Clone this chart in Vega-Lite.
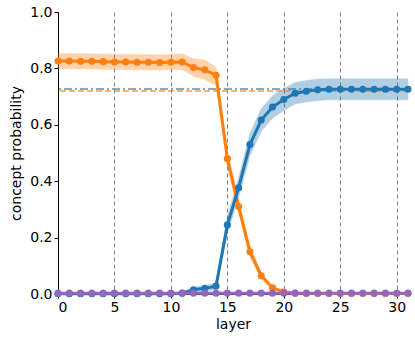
{
  "$schema": "https://vega.github.io/schema/vega-lite/v6.json",
  "width": 350,
  "height": 282,
  "autosize": {"type": "none"},
  "padding": {"left": 58, "top": 12, "right": 7, "bottom": 49},
  "background": "white",
  "config": {
    "view": {"stroke": null},
    "font": "DejaVu Sans",
    "axis": {
      "labelFont": "DejaVu Sans",
      "titleFont": "DejaVu Sans",
      "labelFontSize": 14,
      "titleFontSize": 14,
      "titleFontWeight": "normal",
      "labelColor": "#000",
      "titleColor": "#000",
      "domainColor": "#000",
      "tickColor": "#000",
      "domainWidth": 1,
      "tickSize": 4
    }
  },
  "datasets": {
    "series": [
      {"layer": 0, "concept": "orange", "mean": 0.826, "lo": 0.799, "hi": 0.853},
      {"layer": 1, "concept": "orange", "mean": 0.826, "lo": 0.799, "hi": 0.853},
      {"layer": 2, "concept": "orange", "mean": 0.825, "lo": 0.798, "hi": 0.852},
      {"layer": 3, "concept": "orange", "mean": 0.825, "lo": 0.798, "hi": 0.852},
      {"layer": 4, "concept": "orange", "mean": 0.824, "lo": 0.797, "hi": 0.851},
      {"layer": 5, "concept": "orange", "mean": 0.823, "lo": 0.796, "hi": 0.850},
      {"layer": 6, "concept": "orange", "mean": 0.823, "lo": 0.796, "hi": 0.850},
      {"layer": 7, "concept": "orange", "mean": 0.822, "lo": 0.795, "hi": 0.849},
      {"layer": 8, "concept": "orange", "mean": 0.822, "lo": 0.795, "hi": 0.849},
      {"layer": 9, "concept": "orange", "mean": 0.821, "lo": 0.794, "hi": 0.848},
      {"layer": 10, "concept": "orange", "mean": 0.822, "lo": 0.795, "hi": 0.849},
      {"layer": 11, "concept": "orange", "mean": 0.823, "lo": 0.796, "hi": 0.852},
      {"layer": 12, "concept": "orange", "mean": 0.803, "lo": 0.772, "hi": 0.834},
      {"layer": 13, "concept": "orange", "mean": 0.795, "lo": 0.760, "hi": 0.830},
      {"layer": 14, "concept": "orange", "mean": 0.776, "lo": 0.740, "hi": 0.805},
      {"layer": 15, "concept": "orange", "mean": 0.48, "lo": 0.45, "hi": 0.51},
      {"layer": 16, "concept": "orange", "mean": 0.31, "lo": 0.285, "hi": 0.335},
      {"layer": 17, "concept": "orange", "mean": 0.15, "lo": 0.13, "hi": 0.17},
      {"layer": 18, "concept": "orange", "mean": 0.065, "lo": 0.053, "hi": 0.077},
      {"layer": 19, "concept": "orange", "mean": 0.022, "lo": 0.016, "hi": 0.028},
      {"layer": 20, "concept": "orange", "mean": 0.007, "lo": 0.004, "hi": 0.010},
      {"layer": 21, "concept": "orange", "mean": 0.003, "lo": 0.002, "hi": 0.004},
      {"layer": 22, "concept": "orange", "mean": 0.002, "lo": 0.001, "hi": 0.003},
      {"layer": 23, "concept": "orange", "mean": 0.002, "lo": 0.001, "hi": 0.003},
      {"layer": 24, "concept": "orange", "mean": 0.002, "lo": 0.001, "hi": 0.003},
      {"layer": 25, "concept": "orange", "mean": 0.002, "lo": 0.001, "hi": 0.003},
      {"layer": 26, "concept": "orange", "mean": 0.002, "lo": 0.001, "hi": 0.003},
      {"layer": 27, "concept": "orange", "mean": 0.002, "lo": 0.001, "hi": 0.003},
      {"layer": 28, "concept": "orange", "mean": 0.002, "lo": 0.001, "hi": 0.003},
      {"layer": 29, "concept": "orange", "mean": 0.002, "lo": 0.001, "hi": 0.003},
      {"layer": 30, "concept": "orange", "mean": 0.002, "lo": 0.001, "hi": 0.003},
      {"layer": 31, "concept": "orange", "mean": 0.002, "lo": 0.001, "hi": 0.003},
      {"layer": 0, "concept": "blue", "mean": 0.001, "lo": 0.0, "hi": 0.002},
      {"layer": 1, "concept": "blue", "mean": 0.001, "lo": 0.0, "hi": 0.002},
      {"layer": 2, "concept": "blue", "mean": 0.001, "lo": 0.0, "hi": 0.002},
      {"layer": 3, "concept": "blue", "mean": 0.001, "lo": 0.0, "hi": 0.002},
      {"layer": 4, "concept": "blue", "mean": 0.001, "lo": 0.0, "hi": 0.002},
      {"layer": 5, "concept": "blue", "mean": 0.001, "lo": 0.0, "hi": 0.002},
      {"layer": 6, "concept": "blue", "mean": 0.001, "lo": 0.0, "hi": 0.002},
      {"layer": 7, "concept": "blue", "mean": 0.001, "lo": 0.0, "hi": 0.002},
      {"layer": 8, "concept": "blue", "mean": 0.001, "lo": 0.0, "hi": 0.002},
      {"layer": 9, "concept": "blue", "mean": 0.001, "lo": 0.0, "hi": 0.002},
      {"layer": 10, "concept": "blue", "mean": 0.001, "lo": 0.0, "hi": 0.002},
      {"layer": 11, "concept": "blue", "mean": 0.003, "lo": 0.001, "hi": 0.005},
      {"layer": 12, "concept": "blue", "mean": 0.015, "lo": 0.007, "hi": 0.023},
      {"layer": 13, "concept": "blue", "mean": 0.02, "lo": 0.01, "hi": 0.03},
      {"layer": 14, "concept": "blue", "mean": 0.028, "lo": 0.016, "hi": 0.040},
      {"layer": 15, "concept": "blue", "mean": 0.245, "lo": 0.215, "hi": 0.275},
      {"layer": 16, "concept": "blue", "mean": 0.377, "lo": 0.342, "hi": 0.412},
      {"layer": 17, "concept": "blue", "mean": 0.53, "lo": 0.49, "hi": 0.57},
      {"layer": 18, "concept": "blue", "mean": 0.617, "lo": 0.577, "hi": 0.657},
      {"layer": 19, "concept": "blue", "mean": 0.663, "lo": 0.623, "hi": 0.703},
      {"layer": 20, "concept": "blue", "mean": 0.69, "lo": 0.651, "hi": 0.729},
      {"layer": 21, "concept": "blue", "mean": 0.712, "lo": 0.674, "hi": 0.750},
      {"layer": 22, "concept": "blue", "mean": 0.719, "lo": 0.681, "hi": 0.757},
      {"layer": 23, "concept": "blue", "mean": 0.724, "lo": 0.686, "hi": 0.762},
      {"layer": 24, "concept": "blue", "mean": 0.726, "lo": 0.689, "hi": 0.763},
      {"layer": 25, "concept": "blue", "mean": 0.726, "lo": 0.689, "hi": 0.763},
      {"layer": 26, "concept": "blue", "mean": 0.726, "lo": 0.689, "hi": 0.763},
      {"layer": 27, "concept": "blue", "mean": 0.726, "lo": 0.689, "hi": 0.763},
      {"layer": 28, "concept": "blue", "mean": 0.726, "lo": 0.689, "hi": 0.763},
      {"layer": 29, "concept": "blue", "mean": 0.726, "lo": 0.689, "hi": 0.763},
      {"layer": 30, "concept": "blue", "mean": 0.726, "lo": 0.689, "hi": 0.763},
      {"layer": 31, "concept": "blue", "mean": 0.726, "lo": 0.689, "hi": 0.763},
      {"layer": 0, "concept": "purple", "mean": 0.003, "lo": 0.002, "hi": 0.004},
      {"layer": 1, "concept": "purple", "mean": 0.003, "lo": 0.002, "hi": 0.004},
      {"layer": 2, "concept": "purple", "mean": 0.003, "lo": 0.002, "hi": 0.004},
      {"layer": 3, "concept": "purple", "mean": 0.003, "lo": 0.002, "hi": 0.004},
      {"layer": 4, "concept": "purple", "mean": 0.003, "lo": 0.002, "hi": 0.004},
      {"layer": 5, "concept": "purple", "mean": 0.003, "lo": 0.002, "hi": 0.004},
      {"layer": 6, "concept": "purple", "mean": 0.003, "lo": 0.002, "hi": 0.004},
      {"layer": 7, "concept": "purple", "mean": 0.003, "lo": 0.002, "hi": 0.004},
      {"layer": 8, "concept": "purple", "mean": 0.003, "lo": 0.002, "hi": 0.004},
      {"layer": 9, "concept": "purple", "mean": 0.003, "lo": 0.002, "hi": 0.004},
      {"layer": 10, "concept": "purple", "mean": 0.003, "lo": 0.002, "hi": 0.004},
      {"layer": 11, "concept": "purple", "mean": 0.003, "lo": 0.002, "hi": 0.004},
      {"layer": 12, "concept": "purple", "mean": 0.003, "lo": 0.002, "hi": 0.004},
      {"layer": 13, "concept": "purple", "mean": 0.003, "lo": 0.002, "hi": 0.004},
      {"layer": 14, "concept": "purple", "mean": 0.003, "lo": 0.002, "hi": 0.004},
      {"layer": 15, "concept": "purple", "mean": 0.003, "lo": 0.002, "hi": 0.004},
      {"layer": 16, "concept": "purple", "mean": 0.003, "lo": 0.002, "hi": 0.004},
      {"layer": 17, "concept": "purple", "mean": 0.003, "lo": 0.002, "hi": 0.004},
      {"layer": 18, "concept": "purple", "mean": 0.003, "lo": 0.002, "hi": 0.004},
      {"layer": 19, "concept": "purple", "mean": 0.003, "lo": 0.002, "hi": 0.004},
      {"layer": 20, "concept": "purple", "mean": 0.003, "lo": 0.002, "hi": 0.004},
      {"layer": 21, "concept": "purple", "mean": 0.003, "lo": 0.002, "hi": 0.004},
      {"layer": 22, "concept": "purple", "mean": 0.003, "lo": 0.002, "hi": 0.004},
      {"layer": 23, "concept": "purple", "mean": 0.003, "lo": 0.002, "hi": 0.004},
      {"layer": 24, "concept": "purple", "mean": 0.003, "lo": 0.002, "hi": 0.004},
      {"layer": 25, "concept": "purple", "mean": 0.003, "lo": 0.002, "hi": 0.004},
      {"layer": 26, "concept": "purple", "mean": 0.003, "lo": 0.002, "hi": 0.004},
      {"layer": 27, "concept": "purple", "mean": 0.003, "lo": 0.002, "hi": 0.004},
      {"layer": 28, "concept": "purple", "mean": 0.003, "lo": 0.002, "hi": 0.004},
      {"layer": 29, "concept": "purple", "mean": 0.003, "lo": 0.002, "hi": 0.004},
      {"layer": 30, "concept": "purple", "mean": 0.003, "lo": 0.002, "hi": 0.004},
      {"layer": 31, "concept": "purple", "mean": 0.003, "lo": 0.002, "hi": 0.004}
    ],
    "refs": [
      {"concept": "blue", "ref": 0.727},
      {"concept": "orange", "ref": 0.72}
    ]
  },
  "layer": [
    {
      "data": {"name": "series"},
      "mark": {"type": "area", "opacity": 0.35, "strokeWidth": 1, "strokeOpacity": 0.5},
      "encoding": {
        "x": {
          "field": "layer", "type": "quantitative",
          "scale": {"domain": [0, 31], "nice": false, "zero": false},
          "axis": {
            "title": "layer", "values": [0, 5, 10, 15, 20, 25, 30], "grid": true,
            "gridDash": [4, 3], "gridColor": "#7f7f7f", "gridWidth": 1, "gridOpacity": 1,
            "labelPadding": 2, "titlePadding": 3
          }
        },
        "y": {
          "field": "lo", "type": "quantitative",
          "scale": {"domain": [0, 1], "nice": false},
          "axis": {"title": "concept probability", "values": [0, 0.2, 0.4, 0.6, 0.8, 1.0], "format": ".1f", "grid": false, "labelPadding": 2, "titlePadding": 6}
        },
        "y2": {"field": "hi"},
        "color": {"field": "concept", "type": "nominal", "scale": {"domain": ["orange", "blue", "purple"], "range": ["#ff7f0e", "#1f77b4", "#9467bd"]}, "legend": null},
        "stroke": {"field": "concept", "type": "nominal", "scale": {"domain": ["orange", "blue", "purple"], "range": ["#ff7f0e", "#1f77b4", "#9467bd"]}, "legend": null}
      }
    },
    {
      "data": {"name": "refs"},
      "transform": [{"filter": "datum.concept === 'blue'"}],
      "mark": {"type": "rule", "color": "#1f77b4", "opacity": 0.6, "strokeWidth": 2, "strokeDash": [8, 3, 2, 3]},
      "encoding": {"y": {"field": "ref", "type": "quantitative"}}
    },
    {
      "data": {"name": "refs"},
      "transform": [{"filter": "datum.concept === 'orange'"}],
      "mark": {"type": "rule", "color": "#ff7f0e", "opacity": 0.6, "strokeWidth": 2, "strokeDash": [6, 3]},
      "encoding": {"y": {"field": "ref", "type": "quantitative"}}
    },
    {
      "data": {"name": "series"},
      "mark": {"type": "line", "strokeWidth": 3, "point": {"size": 50, "filled": true, "opacity": 1}},
      "encoding": {
        "x": {"field": "layer", "type": "quantitative"},
        "y": {"field": "mean", "type": "quantitative"},
        "color": {"field": "concept", "type": "nominal", "scale": {"domain": ["orange", "blue", "purple"], "range": ["#ff7f0e", "#1f77b4", "#9467bd"]}, "legend": null}
      }
    }
  ]
}
